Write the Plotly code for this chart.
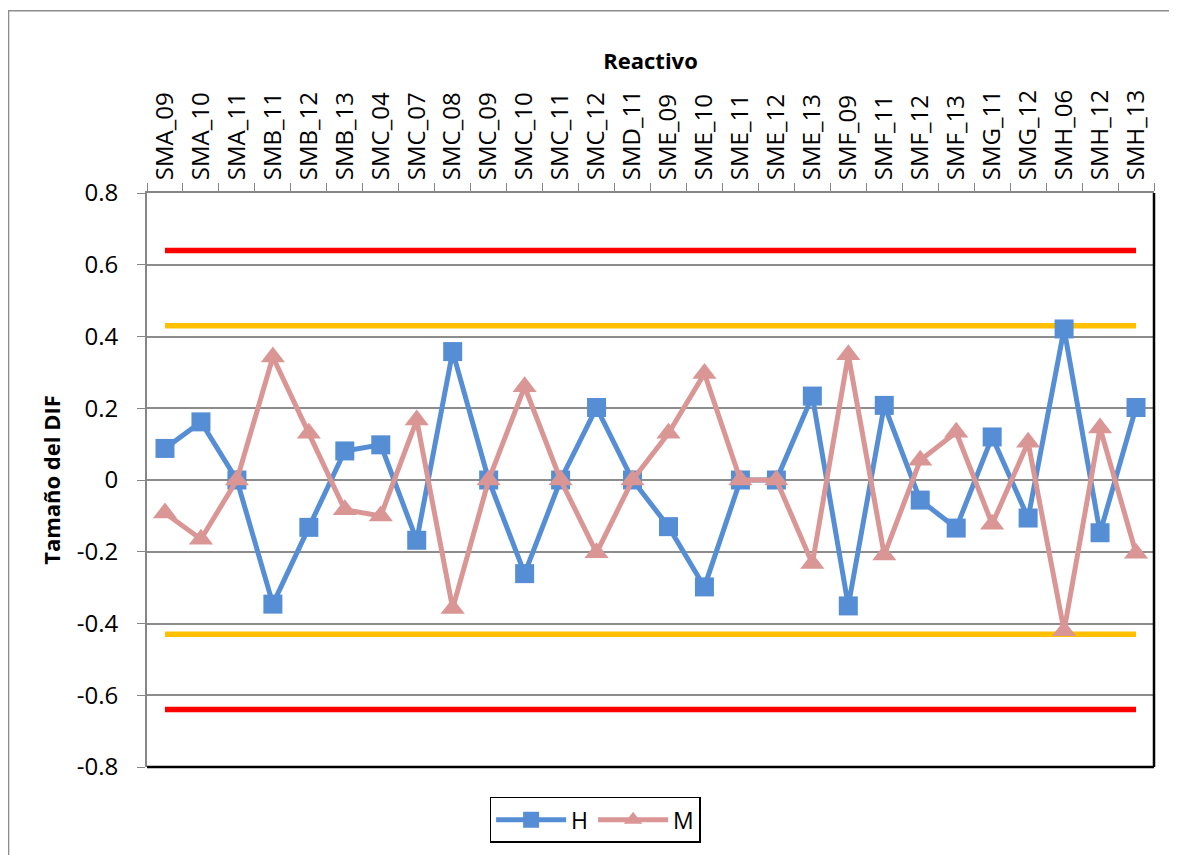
import plotly.graph_objects as go

reactivos = ["SMA_09", "SMA_10", "SMA_11", "SMB_11", "SMB_12", "SMB_13", "SMC_04",
             "SMC_07", "SMC_08", "SMC_09", "SMC_10", "SMC_11", "SMC_12", "SMD_11",
             "SME_09", "SME_10", "SME_11", "SME_12", "SME_13", "SMF_09", "SMF_11",
             "SMF_12", "SMF_13", "SMG_11", "SMG_12", "SMH_06", "SMH_12", "SMH_13"]

H = [0.088, 0.162, 0.0, -0.346, -0.132, 0.081, 0.098, -0.168, 0.358, 0.0,
     -0.261, 0.0, 0.202, 0.0, -0.130, -0.298, 0.0, 0.0, 0.234, -0.351,
     0.208, -0.056, -0.134, 0.120, -0.106, 0.421, -0.147, 0.202]

M = [-0.092, -0.165, 0.0, 0.343, 0.130, -0.083, -0.100, 0.167, -0.358, 0.0,
     0.260, 0.0, -0.203, 0.0, 0.130, 0.297, 0.0, 0.0, -0.233, 0.349,
     -0.209, 0.055, 0.133, -0.123, 0.105, -0.420, 0.145, -0.204]

lim_moderado = 0.43
lim_grande = 0.64

y_ticks = [0.8, 0.6, 0.4, 0.2, 0, -0.2, -0.4, -0.6, -0.8]
y_tick_text = ["0.8", "0.6", "0.4", "0.2", "0", "-0.2", "-0.4", "-0.6", "-0.8"]

FONT = "Open Sans"
fig = go.Figure()

for val, col in [(lim_grande, "#FF0000"), (-lim_grande, "#FF0000"),
                 (lim_moderado, "#FFC000"), (-lim_moderado, "#FFC000")]:
    fig.add_trace(go.Scatter(x=reactivos, y=[val] * len(reactivos), mode="lines",
                             line=dict(color=col, width=5.5), showlegend=False,
                             hoverinfo="skip"))

fig.add_trace(go.Scatter(x=reactivos, y=H, mode="lines+markers", name="H",
                         line=dict(color="#558ED5", width=5),
                         marker=dict(symbol="square", size=19, color="#558ED5")))
fig.add_trace(go.Scatter(x=reactivos, y=M, mode="lines+markers", name="M",
                         line=dict(color="#D99694", width=5),
                         marker=dict(symbol="triangle-up", size=21, color="#D99694")))

# page body has an 8px margin; figure shifted accordingly
# plot area on screen: left 147, right 1154, top 193, bottom 769
fig.update_layout(
    width=1169, height=847,
    margin=dict(l=139, r=23, t=185, b=86),
    paper_bgcolor="white", plot_bgcolor="white",
    font=dict(family=FONT, size=22, color="black"),
    legend=dict(orientation="h", x=0.445, y=-0.092, xanchor="center", yanchor="middle",
                bordercolor="black", borderwidth=1.5, font=dict(size=23),
                itemwidth=70, tracegroupgap=0),
    xaxis=dict(side="top", type="category", tickangle=-90, showgrid=False,
               showline=True, linecolor="#868686", linewidth=2,
               ticks="outside", ticklen=8, tickcolor="#868686", tickwidth=1,
               tickson="boundaries", range=[-0.5, len(reactivos) - 0.5],
               ticklabelstandoff=6,
               title=dict(text="<b>Reactivo</b>", font=dict(size=22), standoff=14),
               tickfont=dict(size=24)),
    yaxis=dict(range=[-0.8, 0.8], tickvals=y_ticks, ticktext=y_tick_text,
               showgrid=True, gridcolor="#8C8C8C", gridwidth=1.5,
               zeroline=False, showline=True, linecolor="#868686", linewidth=2,
               ticks="outside", ticklen=8, tickcolor="#868686",
               ticklabelstandoff=14,
               title=dict(text="<b>Tamaño del DIF</b>", font=dict(size=22), standoff=10),
               tickfont=dict(size=24)),
    shapes=[
        dict(type="line", xref="paper", yref="paper", x0=0, x1=1, y0=0, y1=0,
             line=dict(color="black", width=2.5)),
        dict(type="line", xref="paper", yref="paper", x0=1, x1=1, y0=0, y1=1,
             line=dict(color="black", width=2.5)),
        dict(type="rect", xref="paper", yref="paper", x0=-0.1375, x1=1.05,
             y0=-0.2, y1=1.3177, line=dict(color="#8C8C8C", width=1.5),
             layer="below"),
    ],
)

fig.write_html("out.html")
